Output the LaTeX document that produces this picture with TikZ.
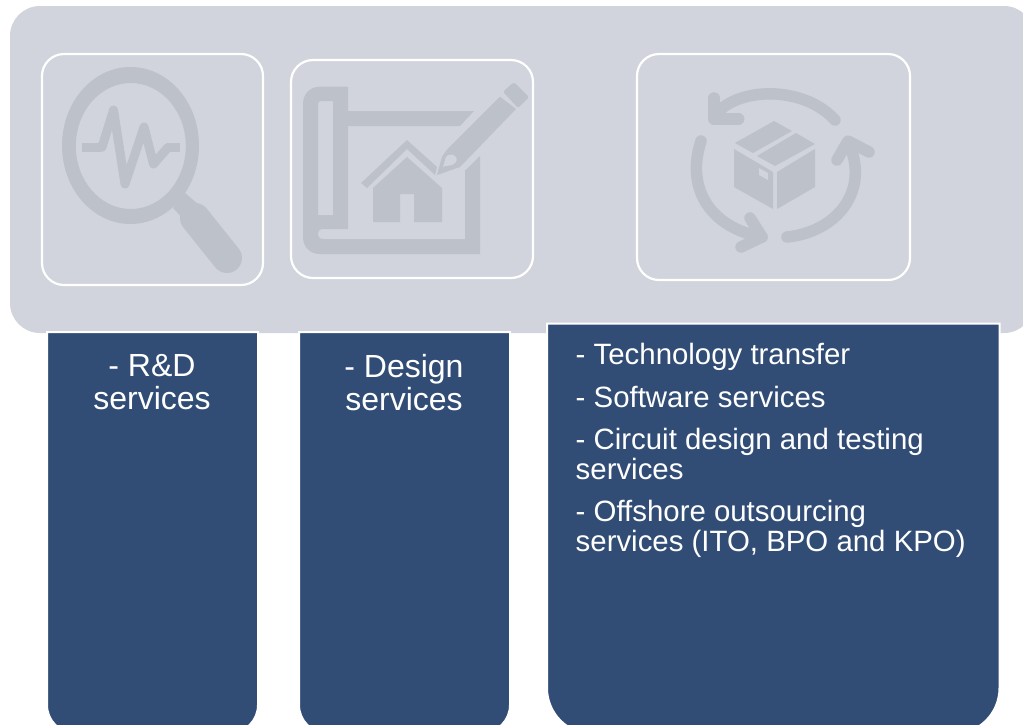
\documentclass[tikz,border=0pt]{standalone}
\usepackage{fontspec}
\setmainfont{Liberation Sans}
\definecolor{band}{HTML}{D1D4DC}
\definecolor{glyph}{HTML}{BDC1CA}
\definecolor{navy}{HTML}{314D76}
\tikzset{x=1pt,y=-1pt,
 iconbox/.style={draw=white,line width=2.2pt,fill=band,rounded corners=22pt},
 column/.style={draw=white,line width=2pt,fill=navy},
 lab/.style={text=white,font=\fontsize{32}{32.500}\selectfont,align=center,anchor=north,inner sep=0pt},
 lab3/.style={text=white,font=\fontsize{29.4}{30}\selectfont,align=left,anchor=north west,inner sep=0pt},
 gl/.style={draw=glyph,fill=none,line cap=round,line join=round},
 gf/.style={fill=glyph,draw=none}}
\begin{document}
\begin{tikzpicture}
\useasboundingbox (0,0) rectangle (1023,724);
\fill[white] (0,0) rectangle (1023,724);
% band
\path[fill=band,rounded corners=30pt] (10,6) rectangle (1034,333);
% columns
\draw[column] (47,332) -- (258,332) -- (258,705) arc[start angle=0,end angle=90,radius=28] -- (75,733) arc[start angle=90,end angle=180,radius=28] -- cycle;
\draw[column] (299,332) -- (510,332) -- (510,705) arc[start angle=0,end angle=90,radius=28] -- (327,733) arc[start angle=90,end angle=180,radius=28] -- cycle;
\draw[column] (547,323.500) -- (999.500,323.500) -- (999.500,688) arc[start angle=0,end angle=90,radius=46] -- (593,734) arc[start angle=90,end angle=180,radius=46] -- cycle;
\node[lab] (a) at (152,354.500) {- R\&D\\services};
\node[lab] (b) at (404,354.500) {- Design\\services};
\node[lab3] (c1) at (575.5,343) {- Technology transfer};
\node[lab3] (c2) at (575.5,385.500) {- Software services};
\node[lab3] (c3) at (575.5,428) {- Circuit design and testing\\services};
\node[lab3] (c4) at (575.5,500) {- Offshore outsourcing\\services (ITO, BPO and KPO)};
% icon boxes
\path[iconbox] (42,54) rectangle (263,285);
\path[iconbox] (291,60) rectangle (533,278);
\path[iconbox] (637,54) rectangle (910,280);
% magnifier
\fill[glyph,even odd rule] (130.500,145.500) ellipse[x radius=68.500,y radius=78.500] (130.800,146) ellipse[x radius=55,y radius=63];
\fill[glyph] (185,193) -- (173,208) -- (190,226) -- (205,210) -- cycle;
\draw[gl,line width=30pt] (195,218) -- (227,258);
\draw[gl,line width=9.500pt,line cap=butt] (82,147.300) -- (102,147.300);
\draw[gl,line width=9pt] (102,147.300) -- (113.500,110) -- (125,184) -- (144,127) -- (153.500,164) -- (168,147.300);
\draw[gl,line width=9.500pt,line cap=butt] (168,147.300) -- (180,147.300);
% blueprint
\fill[glyph,even odd rule] (348,86.700) -- (320,86.700) .. controls (310,86.700) and (303,94) .. (303,104)
 -- (303,237) .. controls (303,247) and (310,254) .. (320,254)
 -- (480,254) -- (480,156) -- (465,170.700) -- (465,239) -- (323,239)
 .. controls (316,239) and (316,229) .. (323,229)
 -- (348,229) -- (348,126) -- (460,126) -- (474,111) -- (348,111) -- cycle
 (320,101) -- (333,101) -- (333,215) -- (318,215) -- (318,103) -- cycle;
\fill[glyph] (361,183) -- (407,140) -- (437,167) -- (435,175) -- (407,149) -- (367,188) -- cycle;
\fill[glyph] (373,188) -- (407,157) -- (442,188) -- (442,222) -- (414,222) -- (414,194) -- (400,194) -- (400,222) -- (373,222) -- cycle;
\fill[glyph] (437,175) -- (442,156.700) -- (446.700,150) -- (500,96.700) -- (516,109) -- (460,167) -- cycle;
\fill[band] (443,166.700) -- (446,157) .. controls (448,154) and (453,154) .. (455,156) .. controls (458,159) and (457,163) .. (452,165) -- cycle;
\fill[glyph,rounded corners=2pt] (503,91.700) -- (514,82) -- (529,97) -- (518,108) -- cycle;
% box and arrows
\fill[glyph] (735,143) -- (774,121) -- (792,131) -- (753,153) -- cycle;
\fill[glyph] (757,156) -- (796,133) -- (815,144) -- (775,166) -- cycle;
\fill[glyph] (734,149) -- (773,172) -- (773,209) -- (734,187) -- cycle;
\fill[band] (759,168) -- (768,173) -- (768,180) -- (759,175) -- cycle;
\fill[glyph] (777,172) -- (815,149) -- (815,187) -- (777,209) -- cycle;
\draw[gl,line width=11.500pt] (835,120) .. controls (805,87) and (745,87) .. (720,110);
\draw[gl,line width=11.500pt] (714,98) -- (714,119) -- (738.700,119);
\draw[gl,line width=11.500pt] (701,141) .. controls (685,190) and (712,228) .. (762,237);
\draw[gl,line width=11.500pt] (750,218) -- (762,237) -- (741,247);
\draw[gl,line width=11.500pt] (787,237) .. controls (837,232) and (871,190) .. (848,142);
\draw[gl,line width=11.500pt] (837,160) -- (848,141) -- (869,152);
\end{tikzpicture}
\end{document}
